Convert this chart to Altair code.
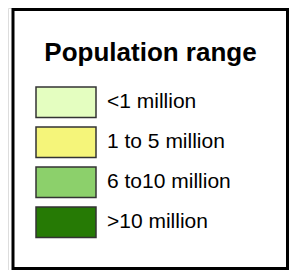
import altair as alt
import pandas as pd

categories = ["<1 million", "1 to 5 million", "6 to10 million", ">10 million"]
colors = ["#E4FEC0", "#F5F57A", "#8CD06B", "#267A05"]
title_text = "Population range"

df = pd.DataFrame({"cat": categories, "color": colors, "order": list(range(len(categories)))})

yscale = alt.Scale(domain=categories, range=[79, 229.5], paddingInner=0.2375, paddingOuter=0)
cscale = alt.Scale(domain=categories, range=colors)

base = alt.Chart(df)

frame = base.mark_rect(fill=None, stroke="#000000", strokeWidth=3, filled=False).encode(
    x=alt.value(5), x2=alt.value(279.5), y=alt.value(1.5), y2=alt.value(260.5)
).transform_filter(alt.datum.order == 0)

swatches = base.mark_rect(stroke="#333333", strokeWidth=1.5).encode(
    y=alt.Y("cat:N", scale=yscale, axis=None),
    x=alt.value(28), x2=alt.value(88),
    fill=alt.Fill("cat:N", scale=cscale, legend=None),
)

labels = base.mark_text(align="left", baseline="middle", font="Liberation Sans",
                        fontSize=21, color="#000000", dx=0).encode(
    y=alt.Y("cat:N", scale=yscale, axis=None),
    x=alt.value(99),
    text="cat:N",
)

title = alt.Chart(pd.DataFrame({"t": [title_text]})).mark_text(
    align="center", baseline="alphabetic", font="Liberation Sans", fontSize=26,
    fontWeight="bold", color="#000000"
).encode(x=alt.value(142.5), y=alt.value(53), text="t:N")

chart = alt.layer(frame, swatches, labels, title).properties(
    width=281, height=262, padding=0, autosize=alt.AutoSizeParams(type="none")
).configure_view(stroke=None).configure(background="#ffffff")

chart.save("out.html", embed_options={"renderer": "svg", "actions": False})
